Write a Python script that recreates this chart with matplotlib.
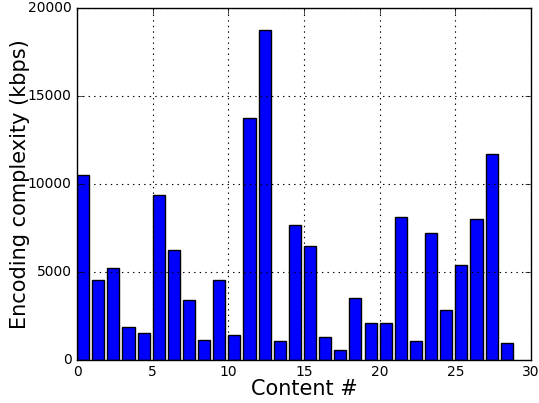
import numpy as np
import matplotlib
matplotlib.use("Agg")
import matplotlib.pyplot as plt

plt.style.use("classic")

content_ids = list(range(29))
complexity_kbps = [
    10530, 4550, 5210, 1890, 1520, 9360, 6250, 3390, 1140, 4530,
    1420, 13730, 18730, 1060, 7670, 6460, 1290, 570, 3540, 2080,
    2100, 8130, 1060, 7230, 2820, 5400, 8030, 11700, 985,
]

fig = plt.figure(figsize=(5.39, 4.03), dpi=100, facecolor="white")
ax = fig.add_subplot(111)
fig.subplots_adjust(left=0.143, right=0.985, bottom=0.107, top=0.980)

ax.bar(content_ids, complexity_kbps, width=0.8, align="edge",
       color="blue", edgecolor="black", linewidth=1)
ax.set_xlim(0, 30)
ax.set_ylim(0, 20000)
ax.set_xticks(np.arange(0, 31, 5))
ax.set_yticks(np.arange(0, 20001, 5000))
ax.tick_params(labelsize=10)
ax.grid(True, color="black", linestyle=":", linewidth=0.8)
ax.set_xlabel("Content #", fontsize=15, labelpad=0)
ax.set_ylabel("Encoding complexity (kbps)", fontsize=15, labelpad=-2)

fig.savefig("out.png", dpi=100, facecolor="white")
